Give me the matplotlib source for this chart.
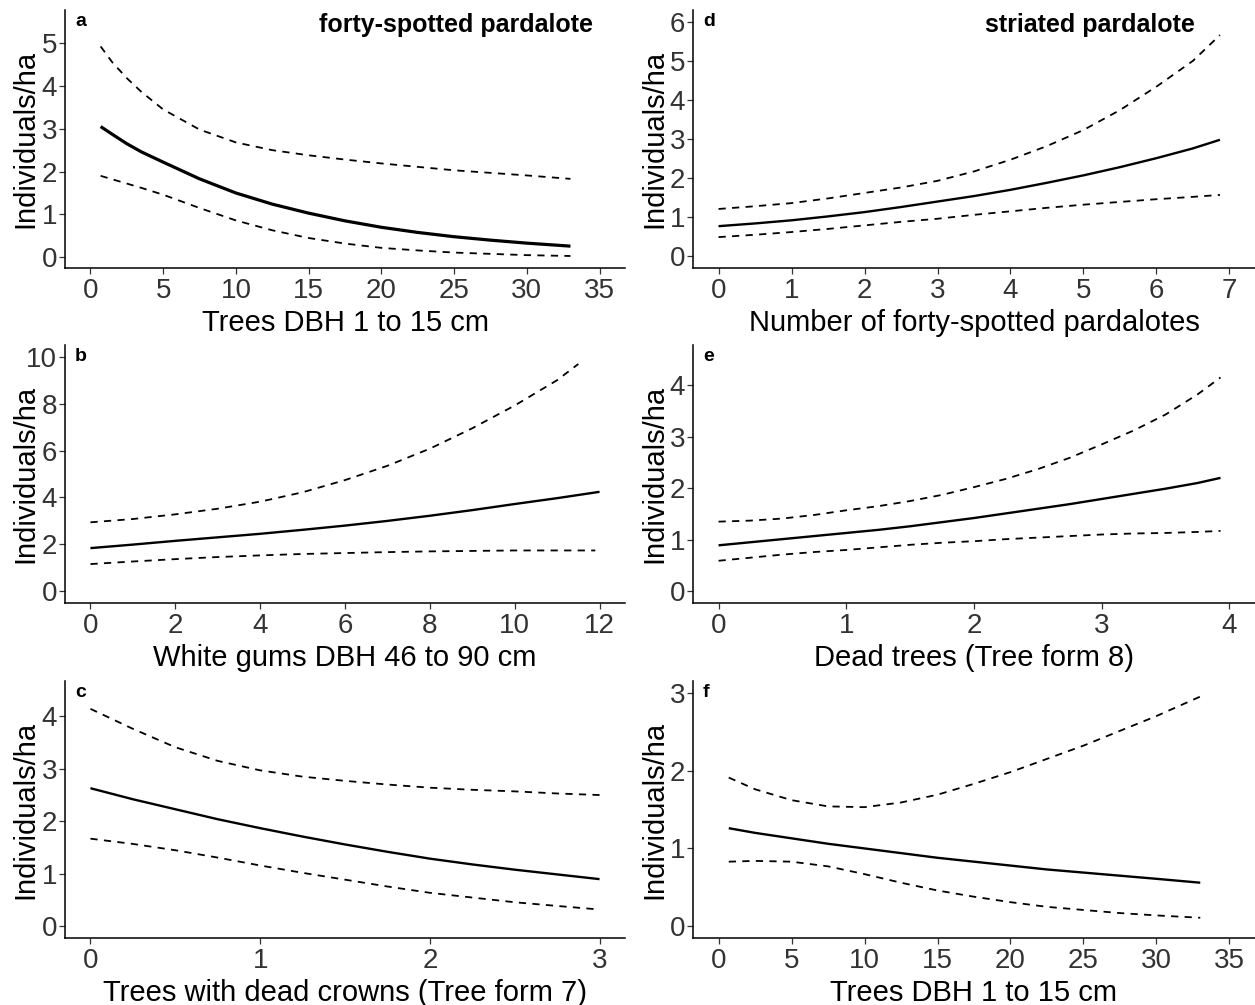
import matplotlib
matplotlib.use("Agg")
import matplotlib.pyplot as plt

plt.rcParams['font.family'] = ['Liberation Sans', 'DejaVu Sans']

# ---------------- data ----------------
# panel a: forty-spotted pardalote vs Trees DBH 1 to 15 cm
a_x     = [0.7, 1.5, 2.5, 3.5, 5, 7.5, 10, 12.5, 15, 17.5, 20, 22.5, 25, 27.5, 30, 33]
a_mean  = [3.05, 2.87, 2.65, 2.46, 2.22, 1.83, 1.50, 1.24, 1.03, 0.85, 0.70, 0.58, 0.48, 0.40, 0.33, 0.26]
a_upper = [4.92, 4.55, 4.18, 3.86, 3.45, 2.98, 2.68, 2.50, 2.38, 2.28, 2.19, 2.11, 2.03, 1.97, 1.91, 1.83]
a_lower = [1.90, 1.82, 1.72, 1.62, 1.46, 1.15, 0.86, 0.63, 0.45, 0.32, 0.22, 0.16, 0.11, 0.08, 0.05, 0.03]

# panel b: White gums DBH 46 to 90 cm
b_x     = [0, 1, 2, 3, 4, 5, 6, 7, 8, 9, 10, 11, 12]
b_mean  = [1.84, 1.99, 2.15, 2.30, 2.45, 2.62, 2.80, 3.00, 3.22, 3.46, 3.72, 3.97, 4.24]
b_up_x  = [0, 1, 2, 3, 4, 5, 6, 7, 8, 9, 10, 11, 11.5]
b_upper = [2.94, 3.08, 3.28, 3.52, 3.82, 4.22, 4.74, 5.35, 6.08, 6.95, 7.92, 9.00, 9.69]
b_lo_x  = [0, 1, 2, 3, 4, 5, 6, 7, 8, 9, 10, 11, 11.9]
b_lower = [1.16, 1.27, 1.37, 1.46, 1.53, 1.59, 1.63, 1.67, 1.70, 1.72, 1.74, 1.74, 1.74]

# panel c: Trees with dead crowns (Tree form 7)
c_x     = [0, 0.25, 0.5, 0.75, 1, 1.25, 1.5, 1.75, 2, 2.25, 2.5, 2.75, 3]
c_mean  = [2.63, 2.42, 2.23, 2.04, 1.87, 1.71, 1.56, 1.42, 1.29, 1.18, 1.08, 0.99, 0.90]
c_upper = [4.14, 3.76, 3.41, 3.15, 2.97, 2.85, 2.77, 2.70, 2.64, 2.60, 2.57, 2.53, 2.50]
c_lo_x  = [0, 0.25, 0.5, 0.75, 1, 1.25, 1.5, 1.75, 2, 2.25, 2.5, 2.75, 2.97]
c_lower = [1.67, 1.57, 1.45, 1.31, 1.16, 1.02, 0.89, 0.76, 0.64, 0.55, 0.46, 0.39, 0.33]

# panel d: striated pardalote vs Number of forty-spotted pardalotes
d_x     = [0, 0.5, 1, 1.5, 2, 2.5, 3, 3.5, 4, 4.5, 5, 5.5, 6, 6.5, 6.87]
d_mean  = [0.77, 0.84, 0.92, 1.02, 1.13, 1.26, 1.40, 1.54, 1.70, 1.88, 2.07, 2.28, 2.51, 2.76, 2.98]
d_upper = [1.21, 1.28, 1.36, 1.48, 1.62, 1.76, 1.93, 2.17, 2.47, 2.82, 3.23, 3.74, 4.34, 5.00, 5.66]
d_lower = [0.49, 0.55, 0.62, 0.70, 0.79, 0.88, 0.96, 1.06, 1.15, 1.24, 1.32, 1.39, 1.46, 1.52, 1.57]

# panel e: Dead trees (Tree form 8)
e_x     = [0, 0.25, 0.5, 0.75, 1, 1.25, 1.5, 1.75, 2, 2.25, 2.5, 2.75, 3, 3.25, 3.5, 3.75, 3.93]
e_mean  = [0.89, 0.95, 1.01, 1.07, 1.13, 1.19, 1.26, 1.34, 1.42, 1.51, 1.60, 1.69, 1.79, 1.89, 1.99, 2.10, 2.20]
e_upper = [1.35, 1.37, 1.41, 1.48, 1.57, 1.65, 1.75, 1.87, 2.02, 2.18, 2.37, 2.59, 2.85, 3.12, 3.43, 3.82, 4.15]
e_lower = [0.59, 0.65, 0.71, 0.76, 0.80, 0.85, 0.90, 0.94, 0.97, 1.01, 1.04, 1.07, 1.10, 1.12, 1.13, 1.15, 1.17]

# panel f: Trees DBH 1 to 15 cm (striated pardalote)
f_x     = [0.7, 2.5, 5, 7.5, 10, 12.5, 15, 17.5, 20, 22.5, 25, 27.5, 30, 33]
f_mean  = [1.26, 1.20, 1.13, 1.06, 1.00, 0.94, 0.88, 0.83, 0.78, 0.73, 0.69, 0.65, 0.61, 0.56]
f_upper = [1.91, 1.76, 1.62, 1.54, 1.53, 1.59, 1.69, 1.83, 1.98, 2.15, 2.32, 2.51, 2.70, 2.95]
f_lower = [0.83, 0.84, 0.83, 0.77, 0.67, 0.56, 0.46, 0.38, 0.31, 0.25, 0.21, 0.17, 0.14, 0.11]

xlabels = ["Trees DBH 1 to 15 cm", "White gums DBH 46 to 90 cm",
           "Trees with dead crowns (Tree form 7)", "Number of forty-spotted pardalotes",
           "Dead trees (Tree form 8)", "Trees DBH 1 to 15 cm"]
panel_letters = ["a", "b", "c", "d", "e", "f"]
titles = {"a": ("forty-spotted pardalote", 0.943), "d": ("striated pardalote", 0.893)}
ylabel = "Individuals/ha"

# ---------------- layout ----------------
W, H = 1255, 1005
fig = plt.figure(figsize=(W / 100, H / 100), dpi=100)

def rect(l, r, t, b):
    return [l / W, 1 - b / H, (r - l) / W, (b - t) / H]

cols = [(65, 625), (693, 1255)]
rows = [(10, 268), (345, 603), (681, 938)]

panels = [
    dict(x=a_x, m=a_mean, ux=a_x, u=a_upper, lx=a_x, lo=a_lower,
         xlim=(-1.75, 36.75), ylim=(-0.25, 5.77), xt=range(0, 36, 5), yt=range(0, 6), lw=2.3),
    dict(x=b_x, m=b_mean, ux=b_up_x, u=b_upper, lx=b_lo_x, lo=b_lower,
         xlim=(-0.6, 12.6), ylim=(-0.5, 10.5), xt=range(0, 13, 2), yt=range(0, 11, 2), lw=1.7),
    dict(x=c_x, m=c_mean, ux=c_x, u=c_upper, lx=c_lo_x, lo=c_lower,
         xlim=(-0.15, 3.15), ylim=(-0.22, 4.67), xt=range(0, 4), yt=range(0, 5), lw=1.7),
    dict(x=d_x, m=d_mean, ux=d_x, u=d_upper, lx=d_x, lo=d_lower,
         xlim=(-0.35, 7.35), ylim=(-0.3, 6.3), xt=range(0, 8), yt=range(0, 7), lw=1.7),
    dict(x=e_x, m=e_mean, ux=e_x, u=e_upper, lx=e_x, lo=e_lower,
         xlim=(-0.2, 4.2), ylim=(-0.23, 4.78), xt=range(0, 5), yt=range(0, 5), lw=1.7),
    dict(x=f_x, m=f_mean, ux=f_x, u=f_upper, lx=f_x, lo=f_lower,
         xlim=(-1.75, 36.75), ylim=(-0.15, 3.15), xt=range(0, 36, 5), yt=range(0, 4), lw=1.7),
]

for i, p in enumerate(panels):
    col, row = i // 3, i % 3
    l, r = cols[col]
    t, b = rows[row]
    ax = fig.add_axes(rect(l, r, t, b))
    ax.plot(p["x"], p["m"], color="black", lw=p["lw"], solid_capstyle="butt")
    ax.plot(p["ux"], p["u"], color="black", lw=1.3, linestyle=(0, (4, 3.5)))
    ax.plot(p["lx"], p["lo"], color="black", lw=1.3, linestyle=(0, (4, 3.5)))
    ax.set_xlim(*p["xlim"])
    ax.set_ylim(*p["ylim"])
    ax.set_xticks(list(p["xt"]))
    ax.set_yticks(list(p["yt"]))
    for s in ["top", "right"]:
        ax.spines[s].set_visible(False)
    for s in ["left", "bottom"]:
        ax.spines[s].set_linewidth(1.1)
    ax.tick_params(axis="both", direction="out", length=4, width=0.9, color="#333333",
                   labelsize=20, labelcolor="#333333")
    ax.tick_params(axis="y", pad=1.5)
    ax.tick_params(axis="x", pad=3)
    ax.set_xlabel(xlabels[i], fontsize=21, color="black", labelpad=4)
    ax.set_ylabel(ylabel, fontsize=21, color="black")
    right_px = 39 if col == 0 else 668
    ax.yaxis.set_label_coords((right_px - l) / (r - l), 0.5)
    ax.text(0.018, 0.99, panel_letters[i], transform=ax.transAxes, fontsize=14,
            fontweight="bold", ha="left", va="top")
    if panel_letters[i] in titles:
        txt, xr = titles[panel_letters[i]]
        ax.text(xr, 0.99, txt, transform=ax.transAxes, fontsize=18,
                fontweight="bold", ha="right", va="top")

fig.savefig("out.png", dpi=100)
